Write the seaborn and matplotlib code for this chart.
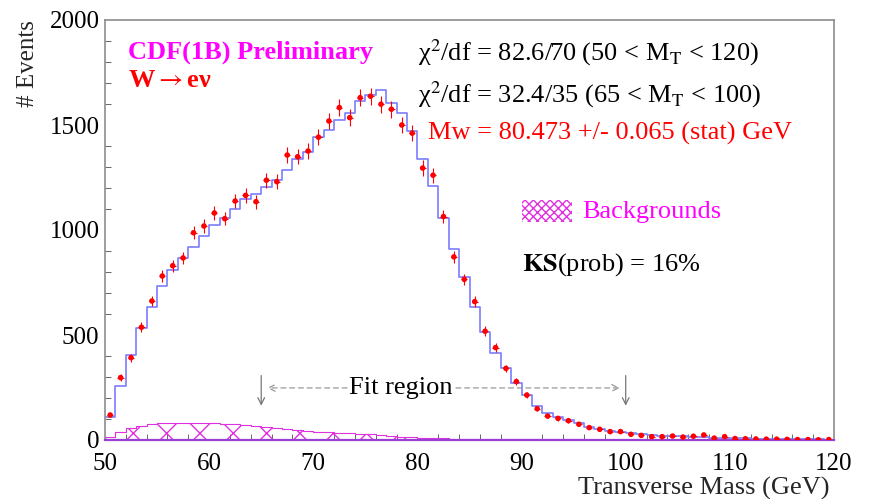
import numpy as np
import pandas as pd
import matplotlib
matplotlib.use("Agg")
import matplotlib.pyplot as plt
from matplotlib.patches import Rectangle
from matplotlib.ticker import MultipleLocator
import seaborn as sns

# ---------------- data ----------------
bin_edges = np.arange(50, 121, 1)          # transverse-mass bins, GeV
bin_centers = bin_edges[:-1] + 0.5

data_counts = [119, 297, 392, 537, 662, 781, 830, 867, 987, 1019,
               1081, 1054, 1138, 1165, 1135, 1237, 1230, 1357, 1349, 1376,
               1442, 1519, 1583, 1535, 1630, 1637, 1599, 1575, 1500, 1461,
               1295, 1261, 1064, 872, 765, 659, 518, 440, 341, 278,
               214, 149, 114, 103, 92, 75, 59, 51, 40, 40,
               27, 22, 16, 16, 19, 14, 18, 24, 9, 16,
               7, 6, 5, 4, 4, 3, 2, 2, 1, 2]

mc_counts = [111, 257, 405, 532, 635, 733, 810, 865, 920, 973,
             1024, 1056, 1099, 1146, 1171, 1206, 1238, 1286, 1338, 1371,
             1444, 1476, 1524, 1556, 1615, 1643, 1667, 1605, 1557, 1470,
             1338, 1208, 1058, 910, 778, 635, 516, 413, 341, 270,
             214, 162, 130, 111, 95, 79, 63, 54, 43, 38,
             32, 27, 24, 21, 19, 17, 16, 14, 11, 10,
             9, 8, 7, 6, 5, 4, 4, 3, 3, 2]

bkg_counts = [16, 37, 59, 67, 75, 79, 79, 80, 80, 80,
              79, 78, 75, 71, 67, 63, 56, 54, 48, 45,
              40, 37, 35, 32, 29, 27, 24, 21, 16, 13,
              10, 9, 8, 7, 6, 6, 5, 5, 4, 4,
              4, 3, 3, 3, 3, 3, 2, 2, 2, 2,
              2, 2, 2, 2, 2, 1, 1, 1, 1, 1,
              1, 1, 1, 1, 1, 1, 1, 1, 1, 1]

x_ticks = [50, 60, 70, 80, 90, 100, 110, 120]
y_ticks = [0, 500, 1000, 1500, 2000]
fit_range = [65, 100]

df = pd.DataFrame({"mt": bin_centers, "data": data_counts,
                   "mc": mc_counts, "bkg": bkg_counts})

# ---------------- style ----------------
sns.set_theme(style="white")
plt.rcParams["font.family"] = ["Liberation Serif", "DejaVu Serif"]
plt.rcParams["mathtext.fontset"] = "stix"
plt.rcParams["hatch.linewidth"] = 1.0

MAG = "#ff00ff"
HATCH = "#e030e0"
BLUE = "#7d7dff"
RED = "#ff0000"
FS = 19

fig = plt.figure(figsize=(8.74, 4.99), dpi=100)
ax = fig.add_axes([105 / 874, 1 - 440 / 499, 729 / 874, 420 / 499])

# background (hatched)
sns.histplot(data=df, x="mt", weights="bkg", binwidth=1, binrange=(50, 120),
             element="step", fill=True, color=HATCH, ax=ax)
bk = ax.collections[-1]
bk.set_facecolor("none")
bk.set_edgecolor(HATCH)
bk.set_hatch("x")
bk.set_linewidth(0.8)

# MC prediction
sns.histplot(data=df, x="mt", weights="mc", binwidth=1, binrange=(50, 120),
             element="step", fill=False, color=BLUE, linewidth=1.2, ax=ax)

# data with errors
ax.errorbar(df["mt"], df["data"], yerr=np.sqrt(df["data"]), xerr=0.3,
            fmt="none", ecolor=RED, elinewidth=0.8, zorder=4)
sns.scatterplot(data=df, x="mt", y="data", color=RED, s=16,
                edgecolor="none", ax=ax, zorder=5)

ax.set_xlim(50, 120)
ax.set_ylim(0, 2000)
ax.set_xlabel("")
ax.set_ylabel("")
ax.set_xticks(x_ticks)
ax.set_yticks(y_ticks)
ax.xaxis.set_minor_locator(MultipleLocator(2))
ax.yaxis.set_minor_locator(MultipleLocator(100))
ax.tick_params(which="major", direction="in", length=7, width=0.8,
               color="#666666", labelsize=18, labelcolor="black")
ax.tick_params(axis="x", which="major", pad=9)
ax.tick_params(axis="y", which="major", pad=4)
ax.tick_params(which="minor", direction="in", length=4, width=0.7,
               color="#666666", left=True, bottom=True)
for s in ["left", "top", "right"]:
    ax.spines[s].set_color("#8c8c8c")
    ax.spines[s].set_linewidth(1.2)
ax.spines["bottom"].set_color("#9a3fd6")
ax.spines["bottom"].set_linewidth(1.6)

# fit region
for xf in fit_range:
    ax.annotate("", xy=(xf, 150), xytext=(xf, 320),
                arrowprops=dict(arrowstyle="->", color="#777777", lw=0.9))
ax.annotate("", xy=(fit_range[0] + 0.3, 248), xytext=(fit_range[1] - 0.3, 248),
            arrowprops=dict(arrowstyle="<->", color="#999999", lw=0.9,
                            linestyle=(0, (4, 3))))
ax.text(78.4, 248, "Fit region", ha="center", va="center", fontsize=FS,
        color="black", bbox=dict(facecolor="white", edgecolor="none", pad=1))

# annotations
ax.text(52.2, 1848, "CDF(1B) Preliminary", color=MAG, fontsize=FS,
        fontweight="bold", ha="left", va="center")
ax.text(52.2, 1714, r"W$\rightarrow$eν", color=RED, fontsize=FS,
        fontweight="bold", ha="left", va="center")
ax.text(80.1, 1843, r"χ$^{2}$/df = 82.6/70 (50 < M$_{\rm T}$ < 120)",
        color="black", fontsize=FS, ha="left", va="center")
ax.text(80.1, 1643, r"χ$^{2}$/df = 32.4/35 (65 < M$_{\rm T}$ < 100)",
        color="black", fontsize=FS, ha="left", va="center")
ax.text(81.0, 1462, "Mw = 80.473 +/- 0.065 (stat) GeV", color=RED,
        fontsize=FS, ha="left", va="center")

ax.add_patch(Rectangle((90.04, 1038), 4.8, 105, facecolor="none",
                       edgecolor=HATCH, hatch="xxxx", linewidth=0))
ax.text(95.8, 1086, "Backgrounds", color=MAG, fontsize=FS,
        ha="left", va="center")
ax.text(90.04, 833, r"$\mathbf{KS}$(prob) = 16%", color="black", fontsize=FS,
        ha="left", va="center")

fig.text(28 / 874, 1 - 20 / 499, "# Events", rotation=90, ha="center",
         va="top", fontsize=18)
fig.text(830 / 874, 1 - 488 / 499, "Transverse Mass (GeV)", ha="right",
         va="center", fontsize=FS)

fig.savefig("out.png", dpi=100)
